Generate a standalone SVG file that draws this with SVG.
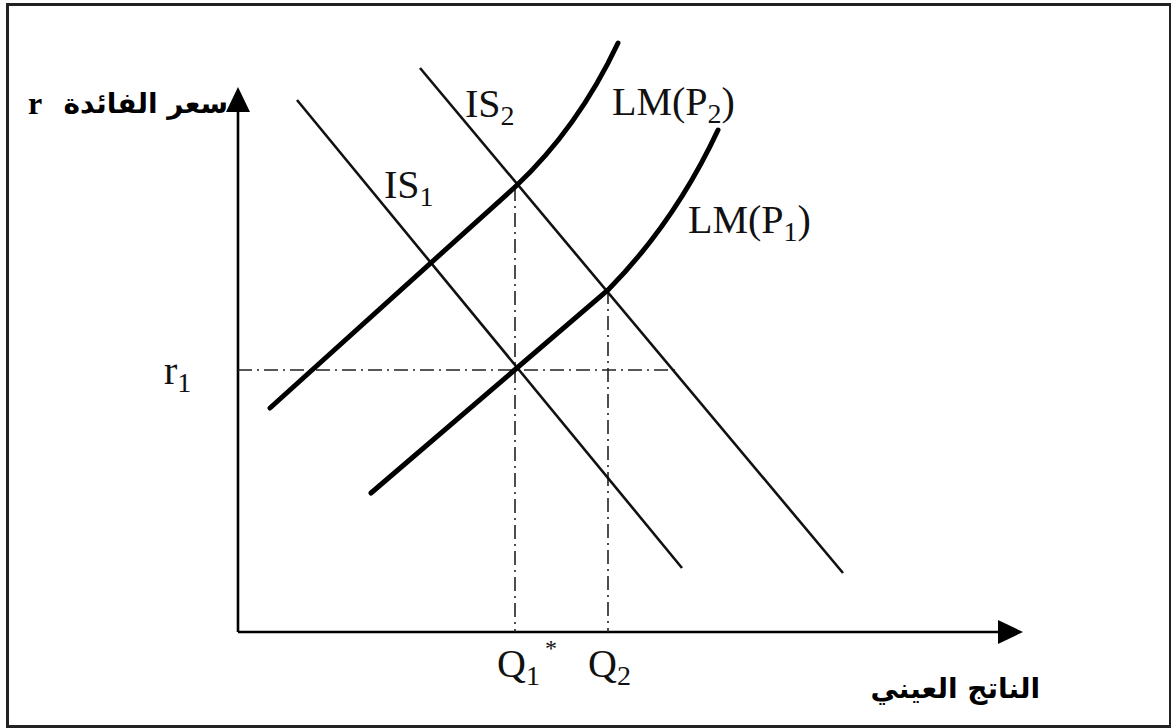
<svg xmlns="http://www.w3.org/2000/svg" width="1171" height="728" viewBox="0 0 1171 728">
<style>
.lbl{font-family:"Liberation Serif","Times New Roman",serif;font-size:40px;fill:#111}
.sub{font-size:28px}
.ar{font-family:"DejaVu Sans","Noto Sans",sans-serif;font-weight:bold;font-size:28px;fill:#000}
.is{fill:none;stroke:#111;stroke-width:2.6}
.lm{fill:none;stroke:#000;stroke-width:5;stroke-linecap:round}
.guide{fill:none;stroke:#222;stroke-width:1.6;stroke-dasharray:14,5,2,5}
.axis{stroke:#000;stroke-width:2.6}
</style>
<rect x="0" y="0" width="1171" height="728" fill="#fff"/>
<rect x="7.5" y="4.5" width="1163" height="722" fill="none" stroke="#222" stroke-width="3"/>
<g id="axes">
<line class="axis" x1="238" y1="105" x2="238" y2="632"/>
<polygon points="238,87 226,112 250,112" fill="#000"/>
<line class="axis" x1="238" y1="632" x2="1000" y2="632"/>
<polygon points="1023,632 998,620 998,644" fill="#000"/>
</g>
<g id="connectors">
<line class="guide" x1="238" y1="370" x2="680" y2="370"/>
<line class="guide" x1="515" y1="187" x2="515" y2="632"/>
<line class="guide" x1="608" y1="290" x2="608" y2="632"/>
<line id="IS1" class="is" x1="297" y1="100" x2="682" y2="568"/>
<line id="IS2" class="is" x1="420" y1="68" x2="843" y2="573"/>
<path id="LMP2" class="lm" d="M270,408 L515,187 Q578,128 618,43"/>
<path id="LMP1" class="lm" d="M371,493 L608,290 Q675,222 718,130"/>
</g>
<g id="labels">
<text class="lbl" x="465" y="117">IS<tspan class="sub" dy="8">2</tspan></text>
<text class="lbl" x="612" y="115">LM(P<tspan class="sub" dy="8">2</tspan><tspan dy="-8">)</tspan></text>
<text class="lbl" x="384" y="198">IS<tspan class="sub" dy="8">1</tspan></text>
<text class="lbl" x="688" y="233">LM(P<tspan class="sub" dy="8">1</tspan><tspan dy="-8">)</tspan></text>
<text class="lbl" x="164" y="384">r<tspan class="sub" dy="8">1</tspan></text>
<text class="lbl" x="497" y="677">Q<tspan class="sub" dy="8">1</tspan></text>
<text class="lbl" x="545" y="656" style="font-size:24px">*</text>
<text class="lbl" x="588" y="677">Q<tspan class="sub" dy="8">2</tspan></text>
<text x="28" y="114" style="font-family:'Liberation Serif',serif;font-weight:bold;font-size:32px">r</text>
<text class="ar" x="228" y="113" text-anchor="end">سعر الفائدة</text>
<text class="ar" x="1040" y="698" text-anchor="end">الناتج العيني</text>
</g>
</svg>
